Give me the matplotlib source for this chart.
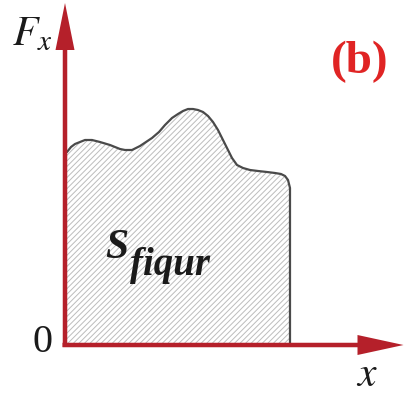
import matplotlib
matplotlib.use("Agg")
import matplotlib.pyplot as plt
from matplotlib.patches import Polygon

plt.rcParams["mathtext.fontset"] = "stix"
plt.rcParams["hatch.linewidth"] = 0.7

# Profile of F_x along x (top boundary of the shaded figure)
x_vals = [2, 6, 10, 15, 20, 27, 35, 45, 55, 60, 67, 75, 81, 87, 94, 100,
          107, 113, 118, 123, 128, 133, 138, 143, 148, 153, 157, 162, 167,
          172, 178, 185, 193, 202, 210, 216, 220, 223, 225]
f_vals = [193, 198, 201, 203, 205, 205, 203, 200, 196, 195, 195, 199, 203,
          207, 213, 220, 227, 231, 234, 236, 236, 235, 233, 229, 223, 215,
          207, 197, 187, 180, 177, 175, 174, 173, 172, 171, 169, 165, 157]
x_end = 225

AXIS_RED = "#b5202a"
LABEL_RED = "#e02424"

fig = plt.figure(figsize=(4.04, 3.96), dpi=100)
ax = fig.add_axes([0, 0, 1, 1])
ax.set_xlim(-65, 339)
ax.set_ylim(-51, 345)
ax.axis("off")

# Shaded region under the curve
region = [(0, 0), (0, f_vals[0])] + list(zip(x_vals, f_vals)) + [(x_end, 0)]
ax.add_patch(Polygon(region, closed=True, facecolor="white",
                     edgecolor="#bcbcbc", hatch="//////", linewidth=0,
                     zorder=1))

# Outline of the figure (top curve and right edge)
ax.plot(x_vals + [x_end], f_vals + [0], color="#4a4a4a", lw=1.6,
        solid_capstyle="round", solid_joinstyle="round", zorder=2)

# Coordinate axes with arrowheads
ax.arrow(0, -2, 0, 344, width=4.5, head_width=19, head_length=47,
         length_includes_head=True, color=AXIS_RED, lw=0, zorder=3)
ax.arrow(-2.5, 0, 341, 0, width=4.5, head_width=20, head_length=46,
         length_includes_head=True, color=AXIS_RED, lw=0, zorder=3)

# Labels
ax.text(-53, 300, r"$F_x$", fontsize=30, color="#1a1a1a", va="baseline",
        ha="left")
ax.text(-12, -7, "0", fontsize=29, family="Liberation Serif",
        color="#1a1a1a", va="baseline", ha="right")
ax.text(302, -41, r"$x$", fontsize=30, color="#1a1a1a", va="baseline",
        ha="center")
ax.text(295, 283, "(b)", fontsize=34, family="Liberation Serif",
        weight="bold", color=LABEL_RED, va="center", ha="center")
ax.text(40, 87, "S", fontsize=30, family="Liberation Serif", weight="bold",
        style="italic", color="#1a1a1a", va="baseline", ha="left", zorder=4)
ax.text(65, 70, "fiqur", fontsize=28, family="Liberation Serif",
        weight="bold", style="italic", color="#1a1a1a", va="baseline",
        ha="left", zorder=4)

fig.savefig("out.png", dpi=100)
